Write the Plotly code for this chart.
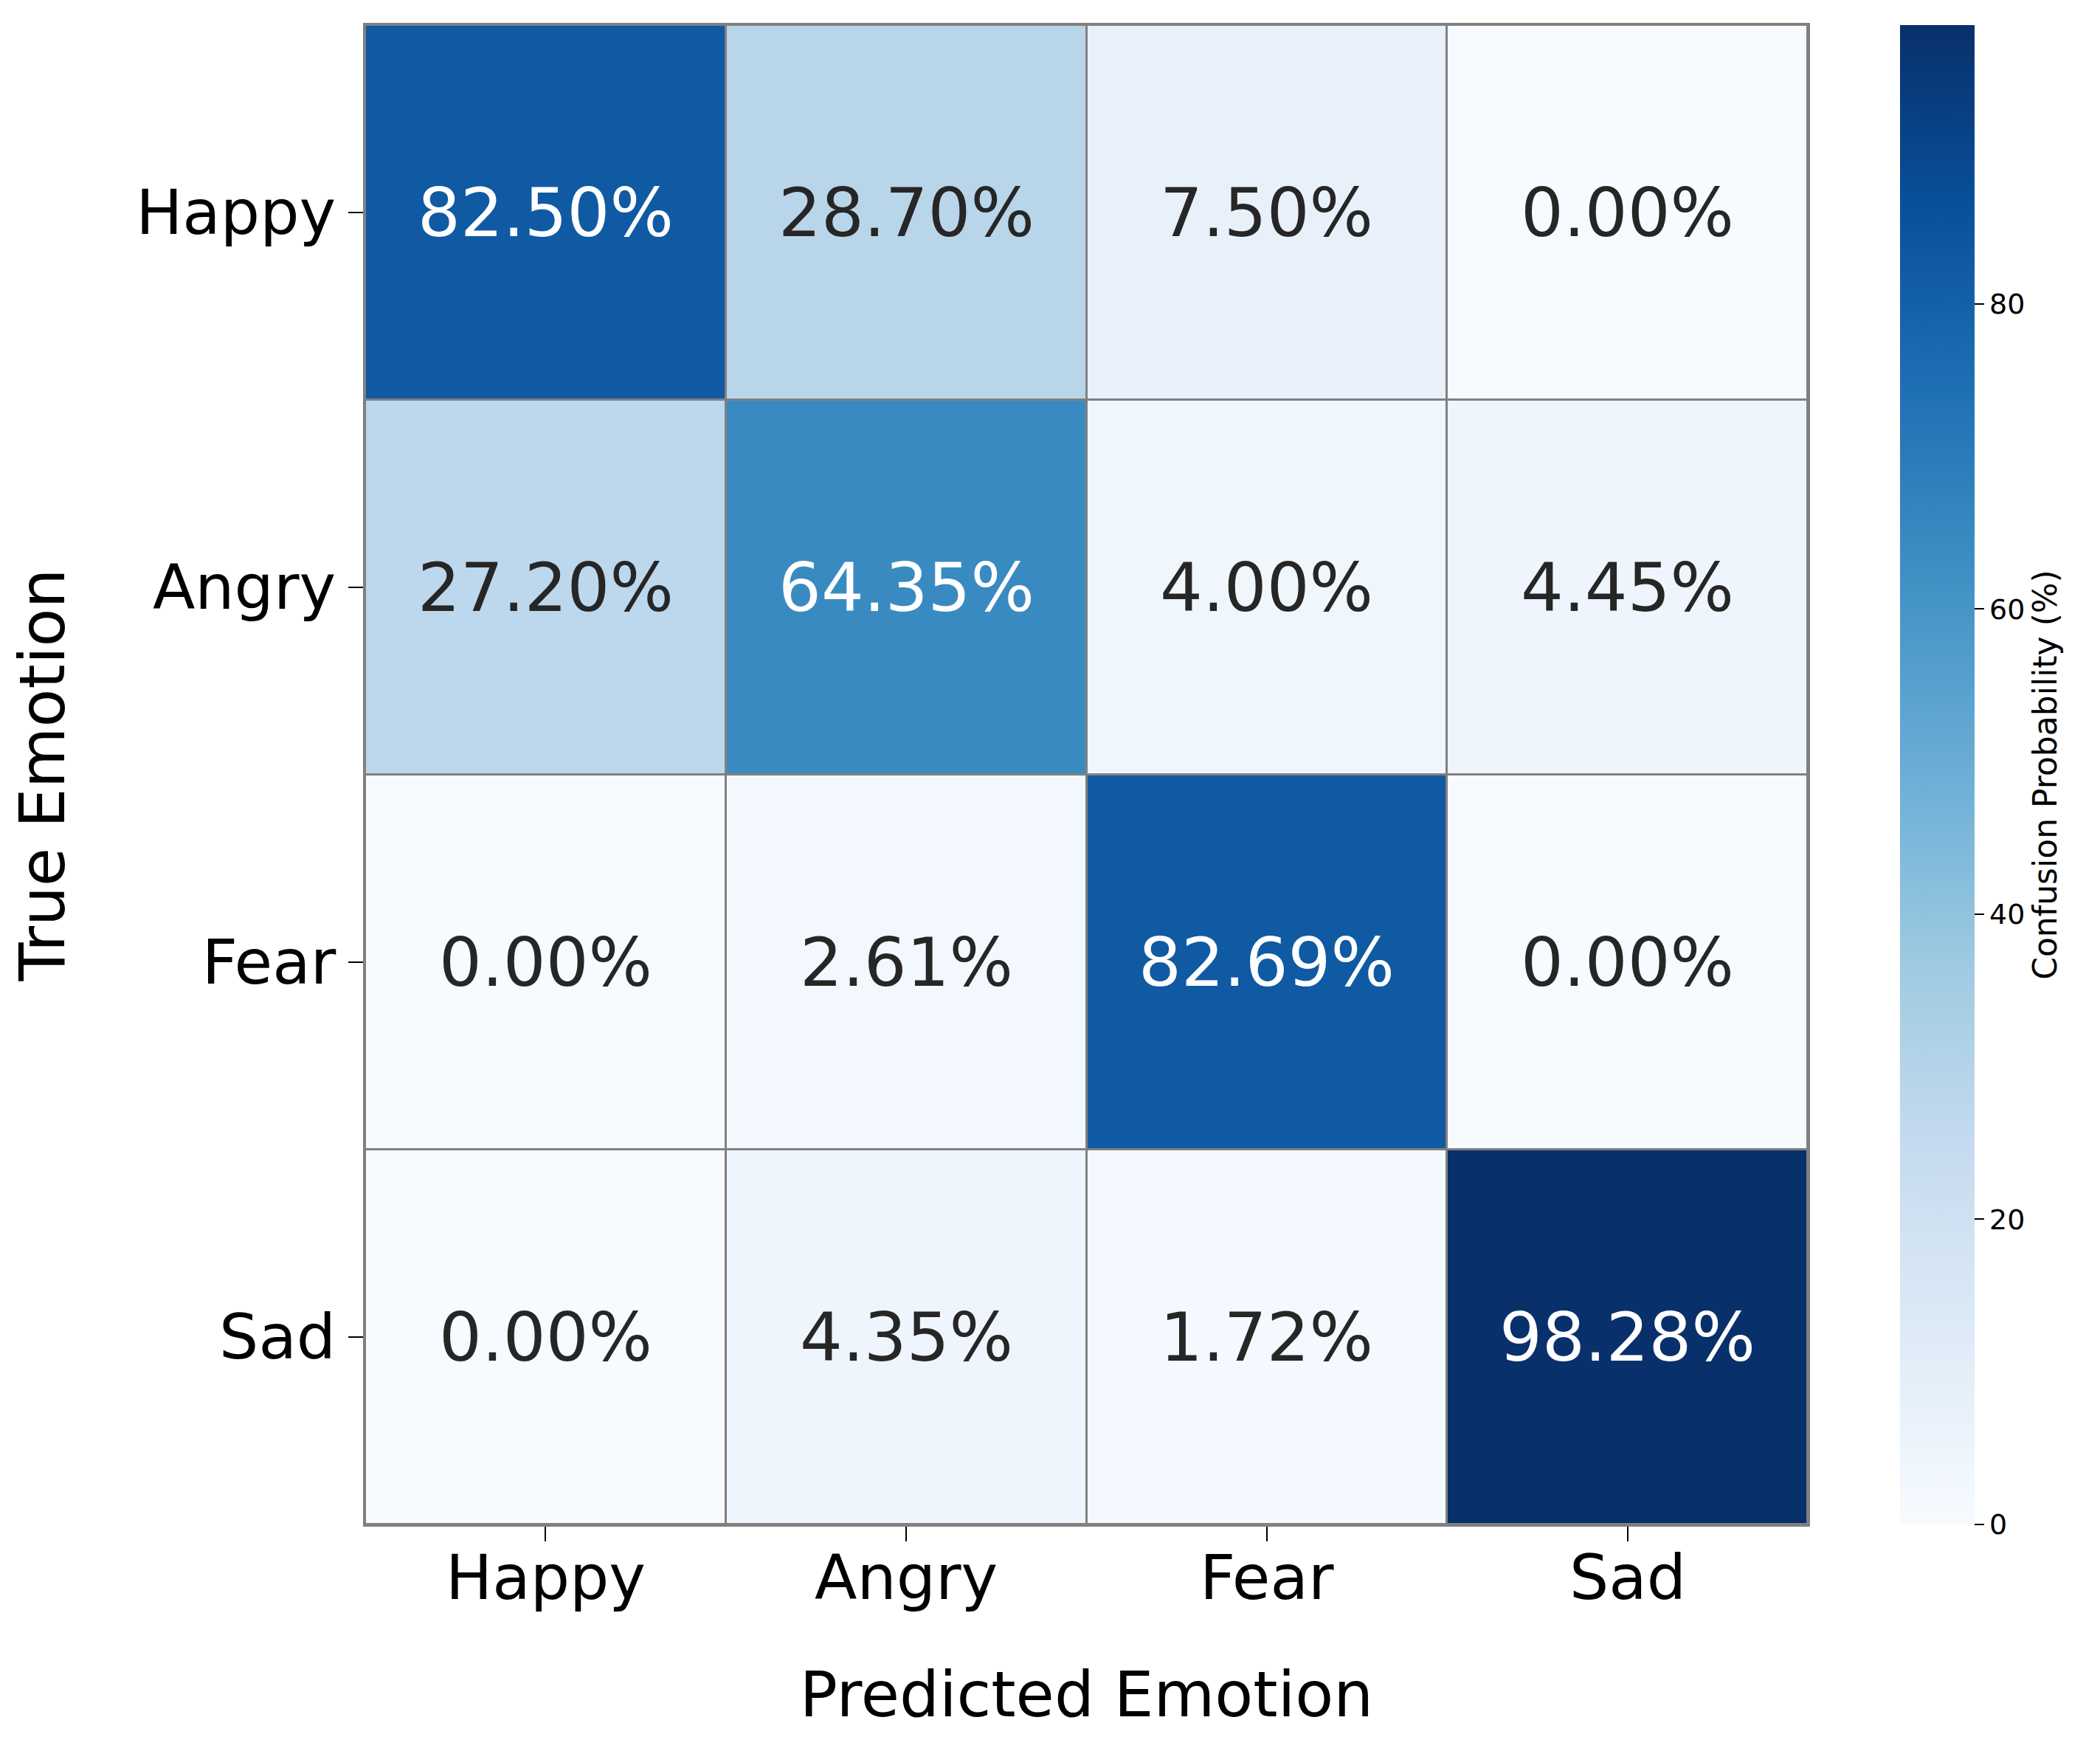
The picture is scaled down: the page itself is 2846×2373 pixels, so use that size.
import plotly.graph_objects as go

emotions = ['Happy', 'Angry', 'Fear', 'Sad']

# rows = true emotion, cols = predicted emotion (percent)
happy_row = [82.50, 28.70, 7.50, 0.00]
angry_row = [27.20, 64.35, 4.00, 4.45]
fear_row = [0.00, 2.61, 82.69, 0.00]
sad_row = [0.00, 4.35, 1.72, 98.28]

z = [happy_row, angry_row, fear_row, sad_row]

blues = [
    [0.0, '#f7fbff'], [0.125, '#deebf7'], [0.25, '#c6dbef'],
    [0.375, '#9ecae1'], [0.5, '#6baed6'], [0.625, '#4292c6'],
    [0.75, '#2171b5'], [0.875, '#08519c'], [1.0, '#08306b'],
]

zmax = max(max(r) for r in z)

fig = go.Figure()
fig.add_trace(go.Heatmap(
    z=z, x=emotions, y=emotions,
    colorscale=blues, zmin=0, zmax=zmax,
    xgap=3, ygap=3,
    colorbar=dict(
        title=dict(text='Confusion Probability (%)', side='right',
                   font=dict(size=44, color='black')),
        thickness=101, thicknessmode='pixels',
        len=1, lenmode='fraction', y=0.5, yanchor='middle',
        x=1.064, xanchor='left', xpad=0, ypad=0,
        outlinewidth=0,
        tickvals=[0, 20, 40, 60, 80],
        ticks='outside', ticklen=13, tickwidth=2, tickcolor='black',
        tickfont=dict(size=38, color='black'),
    ),
))

# cell labels
for i, row in enumerate(z):
    for j, v in enumerate(row):
        fig.add_annotation(
            x=emotions[j], y=emotions[i], text=f'{v:.2f}%',
            showarrow=False,
            font=dict(size=91, color='white' if v > 50 else '#262626'),
        )

# x tick labels placed a bit closer to the axis than plotly's default
for name in emotions:
    fig.add_annotation(
        x=name, xref='x', y=0, yref='paper', yanchor='middle',
        yshift=-72, text=name, showarrow=False,
        font=dict(size=84, color='black'),
    )

fig.update_layout(
    width=2846, height=2373,
    margin=dict(l=487, r=404, t=26, b=315),
    paper_bgcolor='white', plot_bgcolor='gray',
    font=dict(family='DejaVu Sans', color='black'),
)
fig.update_xaxes(
    title=dict(text='Predicted Emotion', font=dict(size=85), standoff=179),
    showticklabels=False, ticks='outside', ticklen=20, tickwidth=2,
    tickcolor='black', showline=True, linecolor='gray', linewidth=3,
    mirror=True, showgrid=False, zeroline=False,
)
fig.update_yaxes(
    title=dict(text='True Emotion', font=dict(size=85), standoff=80),
    tickfont=dict(size=84), ticks='outside', ticklen=20, tickwidth=2,
    tickcolor='black', showline=True, linecolor='gray', linewidth=3,
    mirror=True, showgrid=False, zeroline=False, autorange='reversed',
)

fig.write_html('out.html')
